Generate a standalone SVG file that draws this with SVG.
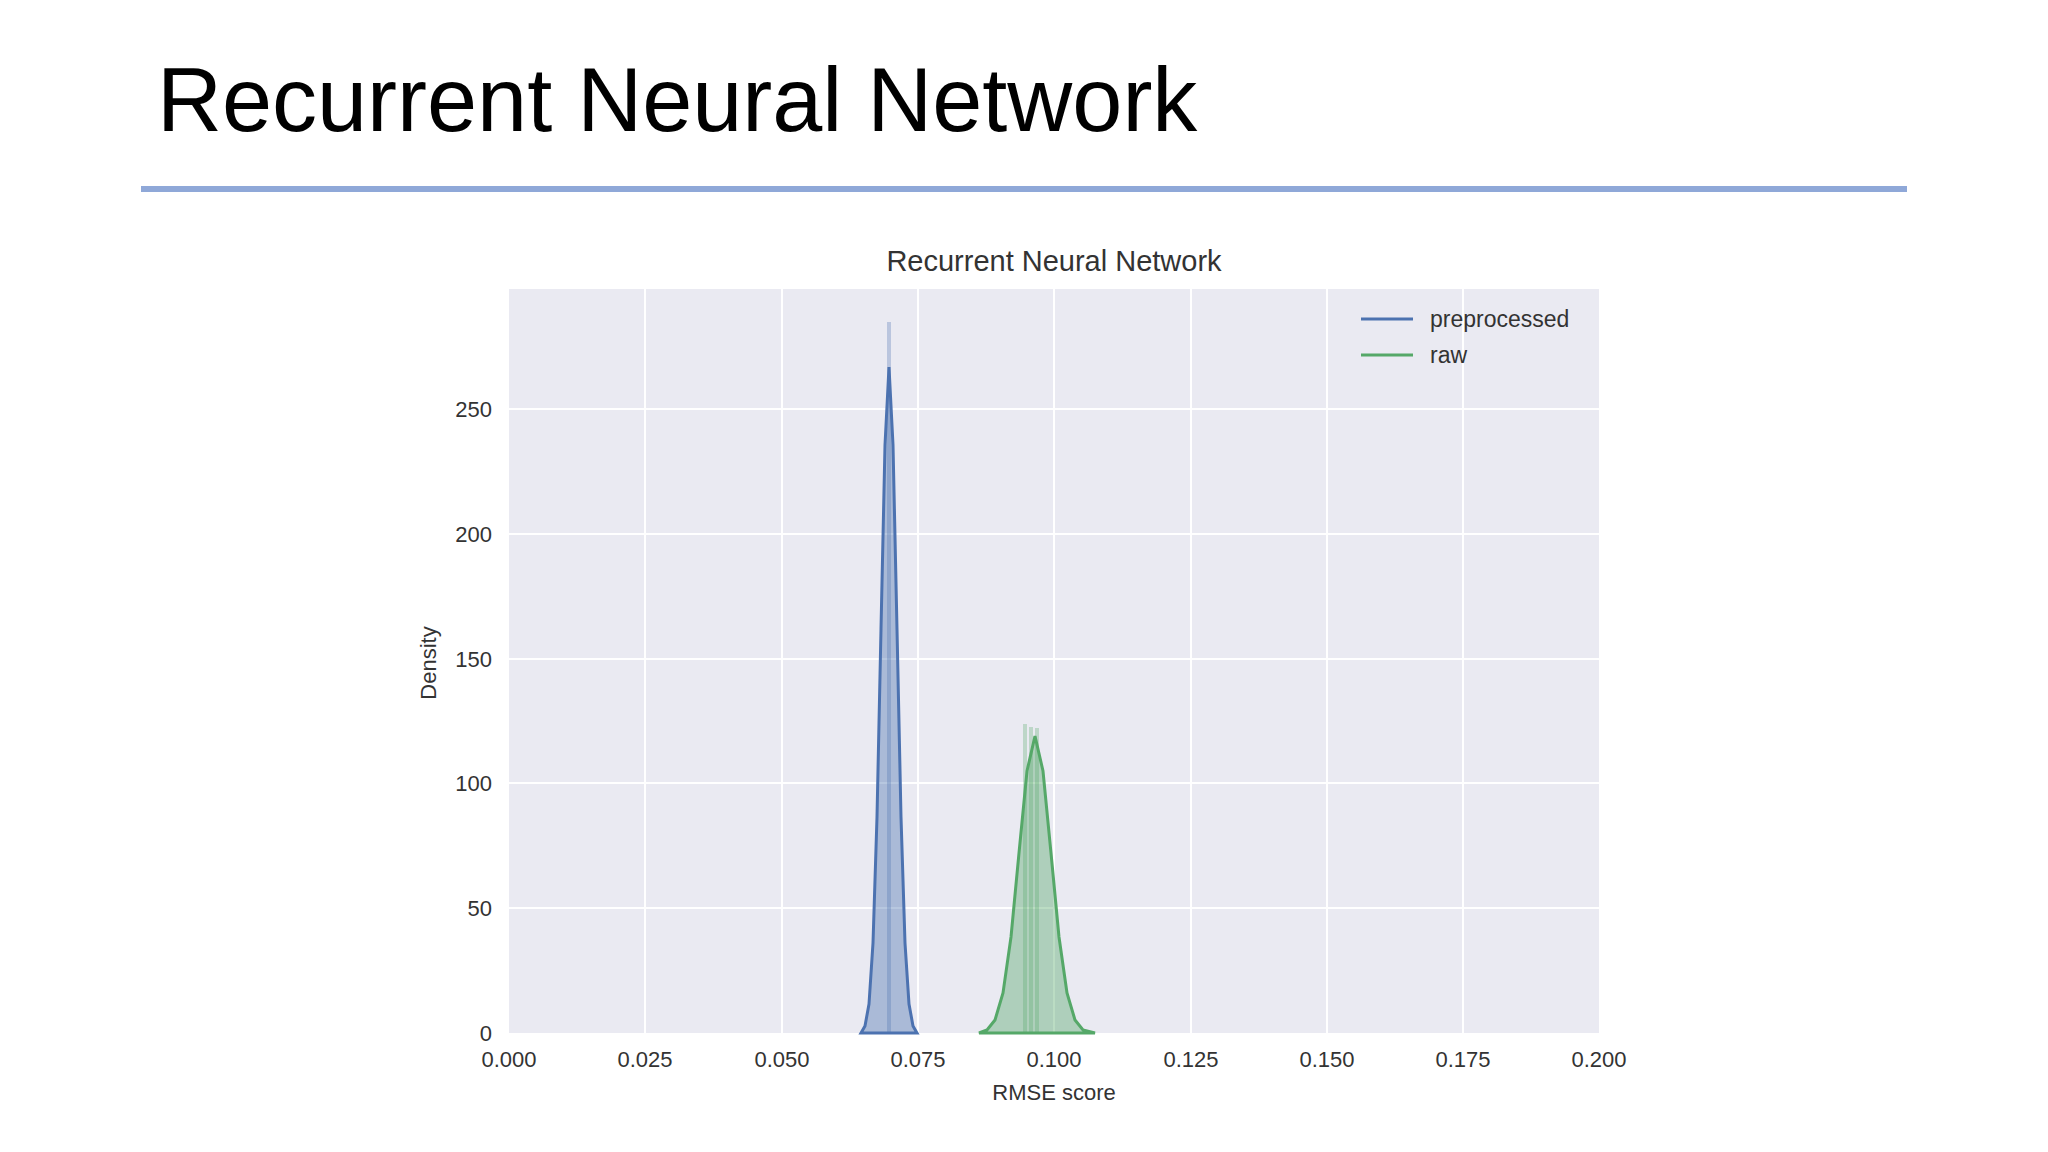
<svg xmlns="http://www.w3.org/2000/svg" width="2048" height="1152" viewBox="0 0 2048 1152">
<style>
.t{font-family:"Liberation Sans",Arial,sans-serif;fill:#333}
.g{stroke:#fff;stroke-width:2}
</style>
<rect width="2048" height="1152" fill="#fff"/>
<text x="157" y="131" font-family="Liberation Sans,Arial,sans-serif" font-size="90" fill="#000">Recurrent Neural Network</text>
<line x1="141" y1="189" x2="1907" y2="189" stroke="#8fa8d8" stroke-width="6"/>
<g id="plot">
<rect x="509" y="289" width="1090" height="744" fill="#eaeaf2"/>
<g class="g">
<line x1="645" y1="289" x2="645" y2="1033"/><line x1="782" y1="289" x2="782" y2="1033"/><line x1="918" y1="289" x2="918" y2="1033"/><line x1="1054" y1="289" x2="1054" y2="1033"/><line x1="1191" y1="289" x2="1191" y2="1033"/><line x1="1327" y1="289" x2="1327" y2="1033"/><line x1="1463" y1="289" x2="1463" y2="1033"/>
<line x1="509" y1="908" x2="1599" y2="908"/><line x1="509" y1="783" x2="1599" y2="783"/><line x1="509" y1="659" x2="1599" y2="659"/><line x1="509" y1="534" x2="1599" y2="534"/><line x1="509" y1="409" x2="1599" y2="409"/>
</g>
<rect x="887" y="322" width="4" height="711" fill="#4c72b0" opacity="0.3"/>
<rect x="1023" y="724" width="4" height="309" fill="#55a868" opacity="0.3"/>
<rect x="1029" y="727" width="4" height="306" fill="#55a868" opacity="0.3"/>
<rect x="1035" y="728" width="4" height="305" fill="#55a868" opacity="0.3"/>
<path d="M861,1033 L865,1026 L869,1004 L873,943 L877,817 L881,629 L885,445 L889,367 L893,445 L897,629 L901,817 L905,943 L909,1004 L913,1026 L917,1033 Z" fill="#4c72b0" fill-opacity="0.4" stroke="#4c72b0" stroke-width="3"/>
<path d="M979,1033 L987,1030 L995,1020 L1003,993 L1011,937 L1019,853 L1027,771 L1035,736 L1043,771 L1051,853 L1059,937 L1067,993 L1075,1020 L1083,1030 L1095,1033 Z" fill="#55a868" fill-opacity="0.4" stroke="#55a868" stroke-width="3"/>
</g>
<g id="labels" class="t" font-size="22">
<text x="1054" y="271" font-size="29" text-anchor="middle">Recurrent Neural Network</text>
<g text-anchor="middle">
<text x="509" y="1067">0.000</text><text x="645" y="1067">0.025</text><text x="782" y="1067">0.050</text><text x="918" y="1067">0.075</text><text x="1054" y="1067">0.100</text><text x="1191" y="1067">0.125</text><text x="1327" y="1067">0.150</text><text x="1463" y="1067">0.175</text><text x="1599" y="1067">0.200</text>
<text x="1054" y="1100">RMSE score</text>
<text x="0" y="0" transform="translate(436,663) rotate(-90)">Density</text>
</g>
<g text-anchor="end">
<text x="492" y="1041">0</text><text x="492" y="916">50</text><text x="492" y="791">100</text><text x="492" y="667">150</text><text x="492" y="542">200</text><text x="492" y="417">250</text>
</g>
</g>
<g id="legend">
<line x1="1361" y1="319" x2="1413" y2="319" stroke="#4c72b0" stroke-width="3"/>
<line x1="1361" y1="355" x2="1413" y2="355" stroke="#55a868" stroke-width="3"/>
<text class="t" x="1430" y="327" font-size="23">preprocessed</text>
<text class="t" x="1430" y="363" font-size="23">raw</text>
</g>
</svg>
